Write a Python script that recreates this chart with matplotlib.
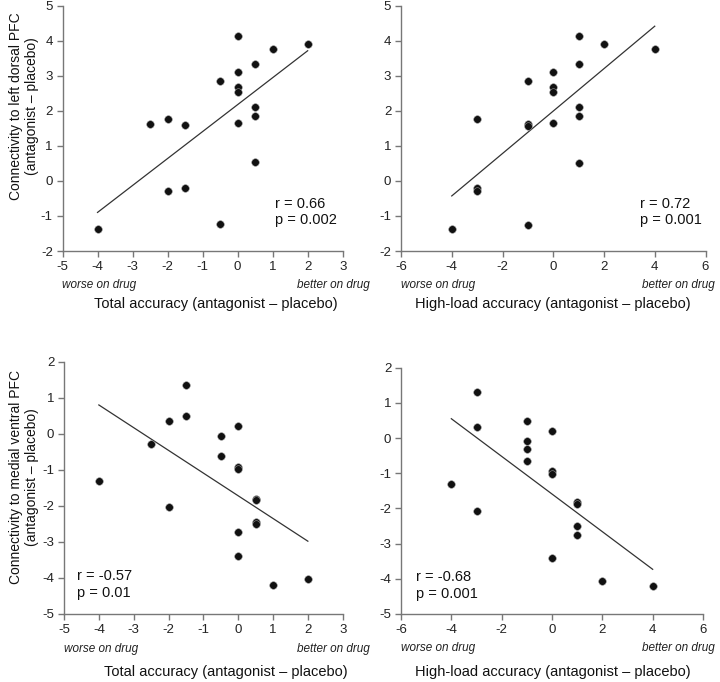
import matplotlib
matplotlib.use("Agg")
import matplotlib.pyplot as plt

plt.rcParams['font.family'] = ['Liberation Sans', 'DejaVu Sans']
plt.rcParams['axes.unicode_minus'] = False

# ---- data ----
tl_x = [0, 1, 2, 0.5, 0, -0.5, 0, 0, 0.5, 0.5, 0, -2, -2.5, -1.5, 0.5, -2, -1.5, -4, -0.5]
tl_y = [4.12, 3.76, 3.91, 3.33, 3.10, 2.84, 2.68, 2.52, 2.10, 1.86, 1.64, 1.77, 1.61, 1.58, 0.54, -0.28, -0.20, -1.36, -1.23]
tl_fit_x = [-4, 2]
tl_fit_y = [-0.90, 3.71]

tr_x = [1, 2, 4, 1, 0, -1, 0, 0, 1, 1, 0, -3, -1, -1, 1, -3, -3, -4, -1]
tr_y = [4.12, 3.89, 3.75, 3.33, 3.10, 2.84, 2.68, 2.52, 2.10, 1.84, 1.64, 1.76, 1.61, 1.57, 0.52, -0.20, -0.30, -1.37, -1.26]
tr_fit_x = [-4, 4]
tr_fit_y = [-0.43, 4.41]

bl_x = [-1.5, -1.5, -2, 0, -0.5, -2.5, -0.5, 0, 0, -4, 0.5, 0.5, -2, 0.5, 0.5, 0, 0, 1, 2]
bl_y = [1.34, 0.49, 0.36, 0.22, -0.07, -0.29, -0.62, -0.91, -0.99, -1.31, -1.80, -1.84, -2.03, -2.46, -2.50, -2.72, -3.38, -4.19, -4.03]
bl_fit_x = [-4, 2]
bl_fit_y = [0.80, -2.98]

br_x = [-3, -3, -1, 0, -1, -1, -1, 0, 0, -4, -3, 1, 1, 1, 1, 0, 2, 4]
br_y = [1.32, 0.32, 0.48, 0.20, -0.09, -0.32, -0.64, -0.93, -1.03, -1.31, -2.07, -1.81, -1.88, -2.50, -2.76, -3.41, -4.05, -4.20]
br_fit_x = [-4, 4]
br_fit_y = [0.55, -3.73]

xlabel_total = "Total accuracy (antagonist \u2013 placebo)"
xlabel_high = "High-load accuracy (antagonist \u2013 placebo)"
ylabel_top = "Connectivity to left dorsal PFC\n(antagonist \u2013 placebo)"
ylabel_bot = "Connectivity to medial ventral PFC\n(antagonist \u2013 placebo)"

W, H = 720, 682
fig = plt.figure(figsize=(W / 100, H / 100), dpi=100)

def rect(l, r, t, b):
    return [l / W, 1 - b / H, (r - l) / W, (b - t) / H]

panels = [
    dict(r=rect(62.5, 342.7, 5.5, 251), x=tl_x, y=tl_y, fx=tl_fit_x, fy=tl_fit_y,
         xlim=(-5, 3), xt=range(-5, 4), ylim=(-2, 5), yt=range(-2, 6),
         stat="r = 0.66\np = 0.002", sx=1.06, sy=-0.45, better=1.097),
    dict(r=rect(401, 705.5, 5.5, 251), x=tr_x, y=tr_y, fx=tr_fit_x, fy=tr_fit_y,
         xlim=(-6, 6), xt=range(-6, 7, 2), ylim=(-2, 5), yt=range(-2, 6),
         stat="r = 0.72\np = 0.001", sx=3.41, sy=-0.45, better=1.031),
    dict(r=rect(64, 342.7, 361.7, 614), x=bl_x, y=bl_y, fx=bl_fit_x, fy=bl_fit_y,
         xlim=(-5, 3), xt=range(-5, 4), ylim=(-5, 2), yt=range(-5, 3),
         stat="r = -0.57\np = 0.01", sx=-4.64, sy=-3.75, better=1.097),
    dict(r=rect(401, 703, 367.7, 614), x=br_x, y=br_y, fx=br_fit_x, fy=br_fit_y,
         xlim=(-6, 6), xt=range(-6, 7, 2), ylim=(-5, 2), yt=range(-5, 3),
         stat="r = -0.68\np = 0.001", sx=-5.4, sy=-3.75, better=1.04),
]

axes = []
for p in panels:
    ax = fig.add_axes(p['r'])
    ax.scatter(p['x'], p['y'], s=30, color='#111111', edgecolors='#999999',
               linewidths=0.4, zorder=3, clip_on=False)
    ax.plot(p['fx'], p['fy'], color='#333333', lw=0.9, zorder=2)
    ax.set_xlim(*p['xlim'])
    ax.set_ylim(*p['ylim'])
    ax.set_xticks(list(p['xt']))
    ax.set_yticks(list(p['yt']))
    for s in ('top', 'right'):
        ax.spines[s].set_visible(False)
    for s in ('left', 'bottom'):
        ax.spines[s].set_color('#777777')
        ax.spines[s].set_linewidth(1.0)
    ax.tick_params(axis='both', direction='out', length=4, width=1.0,
                   color='#777777', labelsize=9.5, labelcolor='#222222', pad=3)
    ax.text(p['sx'], p['sy'], p['stat'], fontsize=10.5, color='#111111',
            va='top', ha='left', linespacing=1.25)
    ax.text(0.0, -0.14, "worse on drug", transform=ax.transAxes, style='italic',
            fontsize=8.5, color='#222222', ha='left', va='center')
    ax.text(p['better'], -0.14, "better on drug", transform=ax.transAxes, style='italic',
            fontsize=8.5, color='#222222', ha='right', va='center')
    axes.append(ax)

fs_lab = 10.5
fig.text(215.8 / W, 1 - 304 / H, xlabel_total, ha='center', va='center', fontsize=fs_lab, color='#111111')
fig.text(552.5 / W, 1 - 304 / H, xlabel_high, ha='center', va='center', fontsize=fs_lab, color='#111111')
fig.text(225.8 / W, 1 - 671.7 / H, xlabel_total, ha='center', va='center', fontsize=fs_lab, color='#111111')
fig.text(552.5 / W, 1 - 671.7 / H, xlabel_high, ha='center', va='center', fontsize=fs_lab, color='#111111')

fs_ylab = 10
fig.text(24 / W, 1 - 106 / H, ylabel_top, rotation=90, ha='center', va='center',
         fontsize=fs_ylab, color='#111111', multialignment='center', linespacing=1.15)
fig.text(24 / W, 1 - 477 / H, ylabel_bot, rotation=90, ha='center', va='center',
         fontsize=fs_ylab, color='#111111', multialignment='center', linespacing=1.15)

fig.savefig("out.png", dpi=100, facecolor='white')
